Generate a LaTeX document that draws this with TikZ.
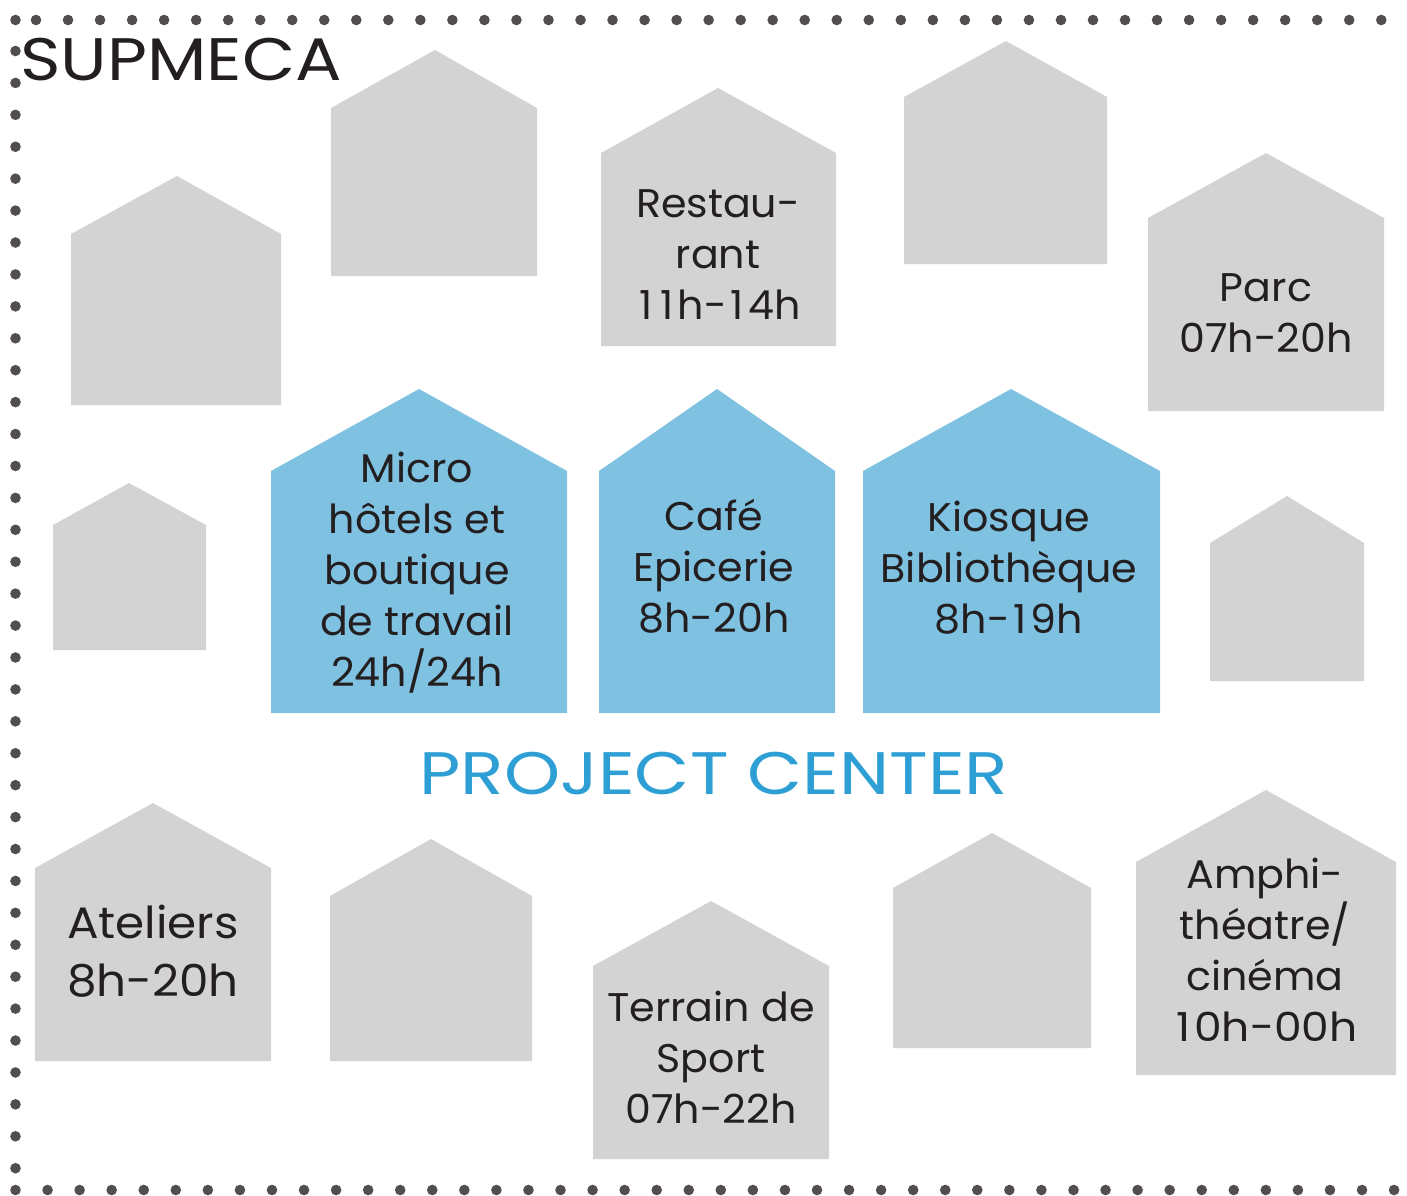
\documentclass[tikz,border=0pt]{standalone}
\usepackage{fontspec}
\setmainfont[FakeStretch=1.03]{Poppins}
\newfontfamily\bigfam[FakeStretch=1.065]{Poppins}
\newfontfamily\supfam[FakeStretch=1.15]{Poppins}
\newfontfamily\pcfam[FakeStretch=1.19]{Poppins}
\newfontfamily\numfam[FakeStretch=1.10]{Poppins}
\definecolor{grayhouse}{HTML}{D3D3D3}
\definecolor{bluehouse}{HTML}{7FC1E1}
\definecolor{ink}{HTML}{231F20}
\definecolor{pcblue}{HTML}{2E9FD4}
\definecolor{dotc}{HTML}{524E4F}
\newcommand{\wone}{\kern.1em 1\kern.1em}
\tikzset{
  lab/.style={font=\fontsize{40}{51}\selectfont, text=ink, align=center, inner sep=0pt},
  labbig/.style={font=\fontsize{44}{58}\selectfont\bigfam, text=ink, align=center, inner sep=0pt},
  headsup/.style={font=\fontsize{60}{60}\selectfont\supfam, inner sep=0pt},
  headpc/.style={font=\fontsize{60}{60}\selectfont\pcfam, inner sep=0pt},
  dotm/.style={fill=dotc, draw=none}
}
% #1 colour, #2 left, #3 right, #4 apex x, #5 apex y, #6 shoulder y, #7 bottom y
\newcommand{\house}[7]{\fill[#1] (#2,#7) -- (#2,#6) -- (#4,#5) -- (#3,#6) -- (#3,#7) -- cycle;}
\begin{document}
\begin{tikzpicture}[x=1pt,y=-1pt]
\useasboundingbox (0,0) rectangle (1407,1195);
% dotted frame
\foreach \k in {0,...,42} \fill[dotm] ({36+32.03*\k},20) circle (5.3);
\fill[dotm] (15.5,20) circle (5.3);
\foreach \k in {0,...,35} \fill[dotm] (15.5,{51+31.92*\k}) circle (5.3);
\foreach \k in {0,...,43} \fill[dotm] ({15.5+32.06*\k},1190) circle (5.3);
% houses
\house{grayhouse}{71}{281}{177}{176}{234}{405}
\house{grayhouse}{331}{537}{435}{50}{108}{276}
\house{grayhouse}{601}{836}{718}{88}{153}{346}
\house{grayhouse}{904}{1107}{1006}{41}{97}{264}
\house{grayhouse}{1148}{1384}{1266}{153}{218}{411}
\house{grayhouse}{53}{206}{129}{483}{525}{650}
\house{bluehouse}{271}{567}{419}{389}{471}{713}
\house{bluehouse}{599}{835}{717}{389}{471}{713}
\house{bluehouse}{863}{1160}{1011}{389}{471}{713}
\house{grayhouse}{1210}{1364}{1287}{496}{543}{681}
\house{grayhouse}{35}{271}{153}{803}{868}{1061}
\house{grayhouse}{330}{532}{431}{839}{896}{1061}
\house{grayhouse}{593}{829}{711}{901}{966}{1159}
\house{grayhouse}{893}{1091}{992}{833}{888}{1048}
\house{grayhouse}{1136}{1396}{1266}{790}{862}{1075}
% labels
\node[headsup,text=ink,anchor=west] (sup) at (20,60) {SUPMECA};
\node[headpc,text=pcblue] (pc) at (714,774) {PROJECT CENTER};
\node[lab] (resto) at (718,255) {Restau-\\rant\\\wone\wone h-\wone 4h};
\node[lab] (parc) at (1266,313) {Parc\\07h-20h};
\node[lab] (micro) at (417,572.5) {Micro\\hôtels et\\boutique\\de travail\\24h/24h};
\node[lab] (cafe) at (714,566.5) {Café\\Epicerie\\8h-20h};
\node[lab] (kiosque) at (1009,567.5) {Kiosque\\Bibliothèque\\8h-\wone 9h};
\node[labbig] (ateliers) at (153,951) {Ateliers\\8h-20h};
\node[lab] (sport) at (711,1057) {Terrain de\\Sport\\07h-22h};
\node[lab] (amphi) at (1265,950) {Amphi-\\théatre/\\cinéma\\{\numfam\wone 0h-00h}};
\end{tikzpicture}
\end{document}
